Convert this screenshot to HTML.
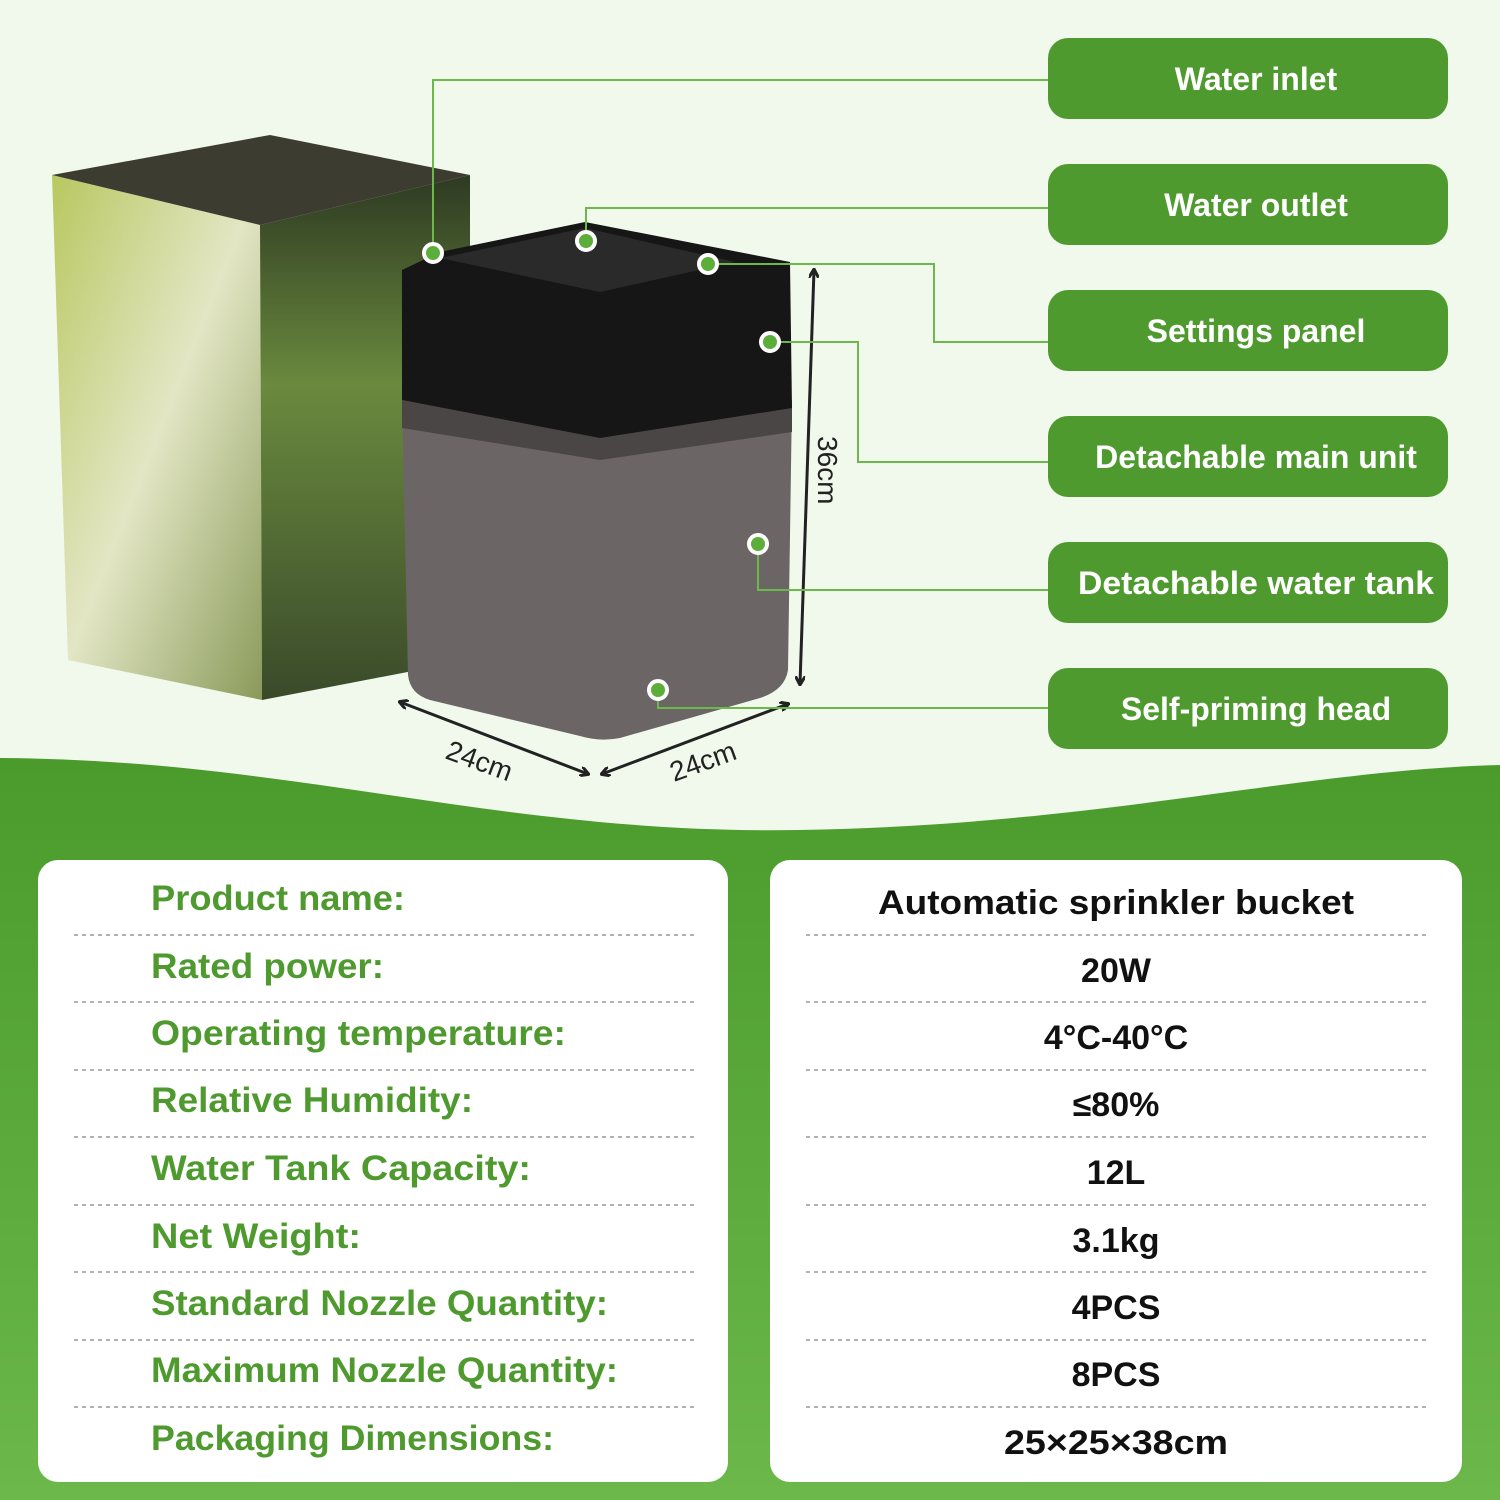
<!DOCTYPE html>
<html><head><meta charset="utf-8"><style>
body{margin:0;width:1500px;height:1500px;overflow:hidden;background:#f1f9ec;font-family:"Liberation Sans",sans-serif}
svg{display:block}
text{font-family:"Liberation Sans",sans-serif;font-weight:bold}
</style></head><body>
<svg width="1500" height="1500" viewBox="0 0 1500 1500">
<defs>
<linearGradient id="gb" x1="0" y1="0" x2="0" y2="1"><stop offset="0" stop-color="#4a9a2c"/><stop offset="1" stop-color="#6cb84a"/></linearGradient>
<linearGradient id="box" x1="0" y1="0" x2="1" y2="1"><stop offset="0" stop-color="#b8c860"/><stop offset="0.5" stop-color="#e2e6c4"/><stop offset="1" stop-color="#8a9a5a"/></linearGradient>
<linearGradient id="side" x1="0" y1="0" x2="0" y2="1"><stop offset="0" stop-color="#2e3a22"/><stop offset="0.4" stop-color="#6a8a3e"/><stop offset="1" stop-color="#3a4a2a"/></linearGradient>
<marker id="ar" markerWidth="10" markerHeight="10" refX="8" refY="5" orient="auto-start-reverse" markerUnits="userSpaceOnUse"><path d="M0,0 L9,5 L0,10" fill="none" stroke="#222" stroke-width="3"/></marker>
</defs>
<rect width="1500" height="1500" fill="#f1f9ec"/>
<path d="M0 758 C300 760 500 835 800 830 C1100 825 1300 770 1500 765 L1500 1500 L0 1500 Z" fill="url(#gb)"/>
<polygon points="52,175 260,225 262,700 68,660" fill="url(#box)"/>
<polygon points="260,225 470,175 470,660 262,700" fill="url(#side)"/>
<polygon points="52,175 270,135 470,175 260,225" fill="#3c3c30"/>
<!-- product -->
<path d="M402 400 L792 400 L788 670 Q785 690 760 698 L620 738 Q600 742 580 736 L430 700 Q410 694 408 675 Z" fill="#6b6565"/>
<path d="M402 270 L440 252 L585 222 L790 262 L792 410 L600 440 L402 400 Z" fill="#161616"/>
<path d="M440 258 L585 228 L735 262 L600 292 Z" fill="#2a2a2a"/>
<path d="M402 400 L600 438 L792 408 L792 432 L600 460 L402 428 Z" fill="#4a4646"/>
<!-- dims -->
<g stroke="#222" stroke-width="3" fill="none">
<line x1="814" y1="270" x2="800" y2="684" marker-start="url(#ar)" marker-end="url(#ar)"/>
<line x1="400" y1="702" x2="588" y2="774" marker-start="url(#ar)" marker-end="url(#ar)"/>
<line x1="602" y1="774" x2="788" y2="704" marker-start="url(#ar)" marker-end="url(#ar)"/>
</g>
<text font-size="28" fill="#222" transform="translate(818,436) rotate(90)" style="font-weight:normal">36cm</text>
<text font-size="28" fill="#222" transform="translate(444,758) rotate(20)" style="font-weight:normal">24cm</text>
<text font-size="28" fill="#222" transform="translate(674,782) rotate(-20)" style="font-weight:normal">24cm</text>
<g stroke="#6cb84a" stroke-width="2" fill="none">
<polyline points="433,253 433,80 1050,80"/>
<polyline points="586,241 586,208 1050,208"/>
<polyline points="708,264 934,264 934,342 1050,342"/>
<polyline points="770,342 858,342 858,462 1050,462"/>
<polyline points="758,544 758,590 1050,590"/>
<polyline points="658,690 658,708 1050,708"/>
</g>
<g fill="#5cae3a" stroke="#fff" stroke-width="4">
<circle cx="433" cy="253" r="9"/><circle cx="586" cy="241" r="9"/><circle cx="708" cy="264" r="9"/>
<circle cx="770" cy="342" r="9"/><circle cx="758" cy="544" r="9"/><circle cx="658" cy="690" r="9"/>
</g>
<g fill="#4f9a2f">
<rect x="1048" y="38" width="400" height="81" rx="20"/>
<rect x="1048" y="164" width="400" height="81" rx="20"/>
<rect x="1048" y="290" width="400" height="81" rx="20"/>
<rect x="1048" y="416" width="400" height="81" rx="20"/>
<rect x="1048" y="542" width="400" height="81" rx="20"/>
<rect x="1048" y="668" width="400" height="81" rx="20"/>
</g>
<g fill="#fff" font-size="32" text-anchor="middle">
<text x="1256" y="90">Water inlet</text>
<text x="1256" y="216">Water outlet</text>
<text x="1256" y="342">Settings panel</text>
<text x="1256" y="468">Detachable main unit</text>
<text x="1256" y="594" textLength="356" lengthAdjust="spacingAndGlyphs">Detachable water tank</text>
<text x="1256" y="720">Self-priming head</text>
</g>
<rect x="38" y="860" width="690" height="622" rx="20" fill="#fff"/>
<rect x="770" y="860" width="692" height="622" rx="20" fill="#fff"/>
<g stroke="#999" stroke-width="1.5" stroke-dasharray="4,4">
<line x1="74" y1="935" x2="698" y2="935"/><line x1="806" y1="935" x2="1430" y2="935"/>
<line x1="74" y1="1002" x2="698" y2="1002"/><line x1="806" y1="1002" x2="1430" y2="1002"/>
<line x1="74" y1="1070" x2="698" y2="1070"/><line x1="806" y1="1070" x2="1430" y2="1070"/>
<line x1="74" y1="1137" x2="698" y2="1137"/><line x1="806" y1="1137" x2="1430" y2="1137"/>
<line x1="74" y1="1205" x2="698" y2="1205"/><line x1="806" y1="1205" x2="1430" y2="1205"/>
<line x1="74" y1="1272" x2="698" y2="1272"/><line x1="806" y1="1272" x2="1430" y2="1272"/>
<line x1="74" y1="1340" x2="698" y2="1340"/><line x1="806" y1="1340" x2="1430" y2="1340"/>
<line x1="74" y1="1407" x2="698" y2="1407"/><line x1="806" y1="1407" x2="1430" y2="1407"/>
</g>
<g fill="#4f9a2f" font-size="35">
<text x="151" y="910" textLength="254" lengthAdjust="spacingAndGlyphs">Product name:</text>
<text x="151" y="978" textLength="233" lengthAdjust="spacingAndGlyphs">Rated power:</text>
<text x="151" y="1045" textLength="415" lengthAdjust="spacingAndGlyphs">Operating temperature:</text>
<text x="151" y="1112" textLength="322" lengthAdjust="spacingAndGlyphs">Relative Humidity:</text>
<text x="151" y="1180" textLength="380" lengthAdjust="spacingAndGlyphs">Water Tank Capacity:</text>
<text x="151" y="1248" textLength="210" lengthAdjust="spacingAndGlyphs">Net Weight:</text>
<text x="151" y="1315" textLength="457" lengthAdjust="spacingAndGlyphs">Standard Nozzle Quantity:</text>
<text x="151" y="1382" textLength="467" lengthAdjust="spacingAndGlyphs">Maximum Nozzle Quantity:</text>
<text x="151" y="1450" textLength="403" lengthAdjust="spacingAndGlyphs">Packaging Dimensions:</text>
</g>
<g fill="#111" font-size="34" text-anchor="middle">
<text x="1116" y="914" textLength="476" lengthAdjust="spacingAndGlyphs">Automatic sprinkler bucket</text>
<text x="1116" y="982">20W</text>
<text x="1116" y="1049">4°C-40°C</text>
<text x="1116" y="1116">≤80%</text>
<text x="1116" y="1184">12L</text>
<text x="1116" y="1252">3.1kg</text>
<text x="1116" y="1319">4PCS</text>
<text x="1116" y="1386">8PCS</text>
<text x="1116" y="1454" textLength="224" lengthAdjust="spacingAndGlyphs">25×25×38cm</text>
</g>
</svg>
</body></html>
